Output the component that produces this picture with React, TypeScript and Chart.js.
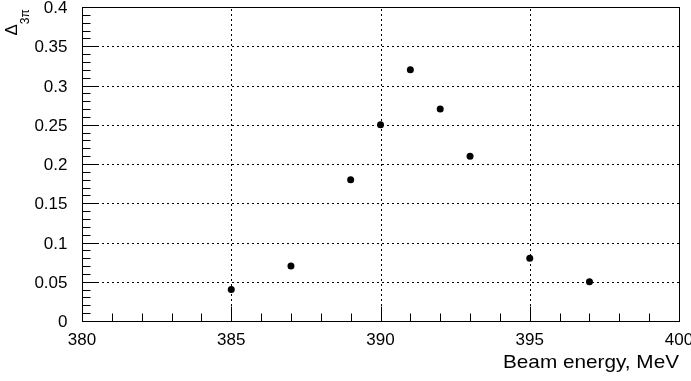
import { useEffect, useRef } from "react";
import { Chart, registerables } from "chart.js";

Chart.register(...registerables);

const beamEnergy = [385, 387, 389, 390, 391, 392, 393, 395, 397];
const delta3pi = [0.04, 0.07, 0.18, 0.25, 0.32, 0.27, 0.21, 0.08, 0.05];
const xTickValues = [380, 385, 390, 395, 400];
const xTickLabels = ["380", "385", "390", "395", "400"];
const yTickValues = [0, 0.05, 0.1, 0.15, 0.2, 0.25, 0.3, 0.35, 0.4];
const yTickLabels = ["0", "0.05", "0.1", "0.15", "0.2", "0.25", "0.3", "0.35", "0.4"];
const xTitle = "Beam energy, MeV";
const yTitleMain = "Δ";
const yTitleSub = "3π";

const FONT = "'Liberation Sans', Arial, Helvetica, sans-serif";

const framePlugin = {
  id: "rootFrame",
  beforeDatasetsDraw(chart: any) {
    const { ctx, chartArea: a, scales } = chart;
    const xs = scales.x;
    const ys = scales.y;
    ctx.save();
    ctx.strokeStyle = "#000";
    ctx.lineWidth = 1;
    ctx.setLineDash([2, 3]);
    xTickValues.forEach((v) => {
      const px = Math.round(xs.getPixelForValue(v)) + 0.5;
      if (px <= a.left + 1 || px >= a.right - 1) return;
      ctx.beginPath();
      ctx.moveTo(px, a.bottom);
      ctx.lineTo(px, a.top);
      ctx.stroke();
    });
    yTickValues.forEach((v) => {
      const py = Math.round(ys.getPixelForValue(v)) + 0.5;
      if (py <= a.top + 1 || py >= a.bottom - 1) return;
      ctx.beginPath();
      ctx.moveTo(a.left, py);
      ctx.lineTo(a.right, py);
      ctx.stroke();
    });
    ctx.restore();
  },
  afterDatasetsDraw(chart: any) {
    const { ctx, chartArea: a, scales } = chart;
    const xs = scales.x;
    const ys = scales.y;
    ctx.save();
    ctx.strokeStyle = "#000";
    ctx.lineWidth = 1;
    ctx.setLineDash([]);
    const L = Math.round(a.left) + 0.5;
    const R = Math.round(a.right) + 0.5;
    const T = Math.round(a.top) + 0.5;
    const B = Math.round(a.bottom) + 0.5;
    ctx.strokeRect(L, T, R - L, B - T);

    for (let v = xs.min; v <= xs.max + 1e-9; v += 1) {
      const px = Math.round(xs.getPixelForValue(v)) + 0.5;
      const major = Math.abs(v % 5) < 1e-6;
      const len = major ? 15 : 8;
      ctx.beginPath();
      ctx.moveTo(px, B);
      ctx.lineTo(px, B - len);
      ctx.stroke();
    }
    for (let i = 0; i <= 40; i++) {
      const v = i * 0.01;
      const py = Math.round(ys.getPixelForValue(v)) + 0.5;
      const major = i % 5 === 0;
      const len = major ? 15 : 8;
      ctx.beginPath();
      ctx.moveTo(L, py);
      ctx.lineTo(L + len, py);
      ctx.stroke();
    }

    ctx.fillStyle = "#000";
    ctx.font = `17px ${FONT}`;
    ctx.textAlign = "center";
    ctx.textBaseline = "alphabetic";
    xTickValues.forEach((v, i) => {
      const px = xs.getPixelForValue(v);
      ctx.fillText(xTickLabels[i], px, B + 23);
    });
    ctx.textAlign = "right";
    yTickValues.forEach((v, i) => {
      const py = ys.getPixelForValue(v);
      ctx.fillText(yTickLabels[i], L - 15, py + 6);
    });

    // x title, slightly stretched horizontally like the reference
    ctx.save();
    ctx.font = `19px ${FONT}`;
    ctx.textAlign = "left";
    const tw = ctx.measureText(xTitle).width;
    const targetW = 176;
    const sx = targetW / tw;
    ctx.translate(503, 368);
    ctx.scale(sx, 1);
    ctx.fillText(xTitle, 0, 0);
    ctx.restore();

    // y title (rotated)
    ctx.save();
    ctx.translate(17, 35.5);
    ctx.rotate(-Math.PI / 2);
    ctx.textAlign = "left";
    ctx.font = `17px ${FONT}`;
    ctx.fillText(yTitleMain, 0, 0);
    const w = ctx.measureText(yTitleMain).width;
    ctx.font = `12px ${FONT}`;
    ctx.fillText(yTitleSub, w, 12);
    ctx.restore();
    ctx.restore();
  },
};

export default function App() {
  const ref = useRef<HTMLCanvasElement | null>(null);
  useEffect(() => {
    if (!ref.current) return;
    const chart = new Chart(ref.current, {
      type: "scatter",
      data: {
        datasets: [
          {
            data: beamEnergy.map((x, i) => ({ x, y: delta3pi[i] })),
            backgroundColor: "#000",
            borderWidth: 0,
            pointRadius: 3.5,
            pointHoverRadius: 3.5,
          },
        ],
      },
      options: {
        responsive: false,
        animation: false,
        layout: { padding: { left: 82, right: 12, top: 7, bottom: 60 } },
        plugins: { legend: { display: false }, tooltip: { enabled: false } },
        scales: {
          x: { type: "linear", min: 380, max: 400, display: false },
          y: { type: "linear", min: 0, max: 0.4, display: false },
        },
      },
      plugins: [framePlugin],
    });
    return () => chart.destroy();
  }, []);
  return (
    <div style={{ position: "absolute", left: 0, top: 0, width: 691, height: 381, background: "#fff" }}>
      <canvas ref={ref} width={691} height={381} style={{ width: 691, height: 381, display: "block" }} />
    </div>
  );
}
